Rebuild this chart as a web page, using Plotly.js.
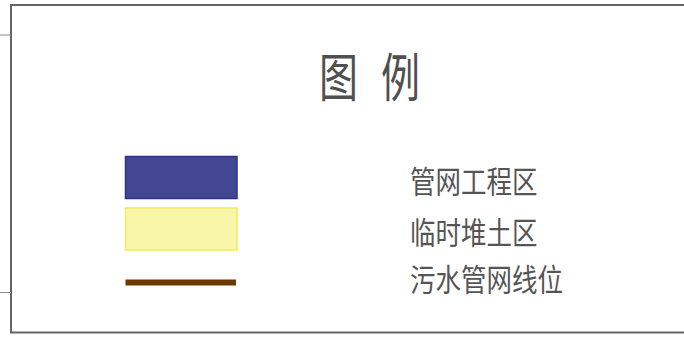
<!DOCTYPE html>
<html>
<head>
<meta charset="utf-8">
<script src="https://cdn.plot.ly/plotly-3.0.1.min.js"></script>
<style>html,body{margin:0;padding:0;background:#fff;}#chart{width:684px;height:338px;}</style>
</head>
<body>
<div id="chart"></div>
<script>
// Legend content
var titleChars = ['图', '例'];
var categories = ['管网工程区', '临时堆土区', '污水管网线位'];
var symbolTypes = ['rect', 'rect', 'line'];
var fillColors = ['#434793', '#f8f6a8', '#6f3800'];
var borderColors = ['#2e3388', '#f2ec5e', '#6f3800'];

// layout geometry (pixel-like coordinates)
var rowY = [177.5, 229, 282.5];
var symX0 = 125.5, symX1 = 237;
var rectHalfH = 21;
var labelX = 408;
var labelY = [179, 230, 277];
var titleX = [338, 400];

var shapes = [];
var annotations = [];
var frameColor = '#646464';
// frame
shapes.push({type:'line', x0:11, x1:11, y0:5, y1:333, line:{color:frameColor, width:2}});
shapes.push({type:'line', x0:10, x1:690, y0:5, y1:5, line:{color:frameColor, width:2}});
shapes.push({type:'line', x0:10, x1:690, y0:332.5, y1:332.5, line:{color:frameColor, width:2}});
shapes.push({type:'line', x0:0, x1:11, y0:35, y1:35, line:{color:'#8a8a8a', width:1}});
shapes.push({type:'line', x0:0, x1:11, y0:292.5, y1:292.5, line:{color:'#8a8a8a', width:1}});

var stretch = [];
for (var i = 0; i < categories.length; i++) {
  if (symbolTypes[i] === 'rect') {
    shapes.push({type:'rect', x0:symX0, x1:symX1, y0:rowY[i]-rectHalfH, y1:rowY[i]+rectHalfH,
      fillcolor:fillColors[i], line:{color:borderColors[i], width:1.5}});
  } else {
    shapes.push({type:'line', x0:symX0, x1:symX1-1, y0:rowY[i], y1:rowY[i],
      line:{color:fillColors[i], width:6}});
  }
  annotations.push({x:labelX, y:labelY[i], xref:'x', yref:'y', text:categories[i], showarrow:false,
    xanchor:'left', yanchor:'middle', font:{family:'Noto Sans CJK SC', size:25.5, color:'#555555'}});
  stretch.push(1.2);
}
for (var j = 0; j < titleChars.length; j++) {
  annotations.push({x:titleX[j], y:74, xref:'x', yref:'y', text:titleChars[j], showarrow:false,
    xanchor:'center', yanchor:'middle', font:{family:'Noto Sans CJK SC', size:39, color:'#505050'}});
  stretch.push(1.33);
}

var layout = {
  width:684, height:338,
  margin:{l:0, r:0, t:0, b:0},
  paper_bgcolor:'#ffffff', plot_bgcolor:'#ffffff',
  xaxis:{range:[0,684], visible:false, fixedrange:true},
  yaxis:{range:[338,0], visible:false, fixedrange:true},
  shapes:shapes, annotations:annotations, showlegend:false
};
Plotly.newPlot('chart', [], layout, {displayModeBar:false, staticPlot:true}).then(function(){
  var texts = document.querySelectorAll('#chart .annotation-text');
  for (var k = 0; k < texts.length; k++) {
    texts[k].style.transformBox = 'fill-box';
    texts[k].style.transformOrigin = 'center';
    texts[k].style.transform = 'scaleY(' + stretch[k] + ')';
  }
});
</script>
</body>
</html>
